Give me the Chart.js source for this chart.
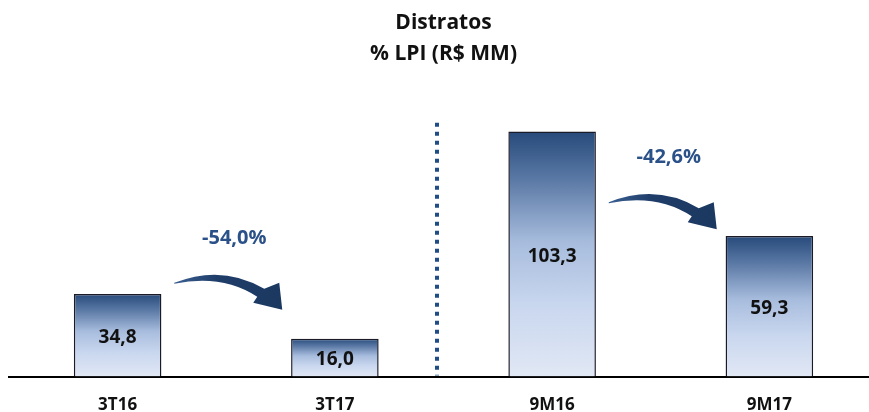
<!DOCTYPE html>
<html>
<head>
<meta charset="utf-8">
<script src="https://cdn.jsdelivr.net/npm/chart.js@4.4.1/dist/chart.umd.min.js"></script>
<style>
  html, body { margin: 0; padding: 0; background: #ffffff; overflow: hidden; }
  #wrap { width: 869px; height: 412px; position: relative; overflow: hidden; }
  canvas { display: block; }
</style>
</head>
<body>
<div id="wrap"><canvas id="c" width="878" height="412"></canvas></div>
<script>
const categories = ['3T16', '3T17', '9M16', '9M17'];
const values = [34.8, 16.0, 103.3, 59.3];
const valueLabels = ['34,8', '16,0', '103,3', '59,3'];
const changeLabels = ['-54,0%', '-42,6%'];
const titleLines = ['Distratos', '% LPI (R$ MM)'];

const FONT = '"Open Sans", "DejaVu Sans", sans-serif';

function barGradient(ctx) {
  const chart = ctx.chart;
  if (!chart.chartArea || !chart.scales.y) return '#a9bddf';
  const y = chart.scales.y;
  const top = y.getPixelForValue(ctx.raw);
  const bottom = y.getPixelForValue(0);
  const g = chart.ctx.createLinearGradient(0, top, 0, bottom);
  g.addColorStop(0, '#264a7b');
  g.addColorStop(0.2, '#5c7aa6');
  g.addColorStop(0.45, '#a7bcdd');
  g.addColorStop(0.7, '#c8d6ee');
  g.addColorStop(1, '#e1e8f5');
  return g;
}

const decorPlugin = {
  id: 'decor',
  afterDatasetsDraw(chart) {
    const ctx = chart.ctx;
    const meta = chart.getDatasetMeta(0);
    const xs = chart.scales.x;
    const ys = chart.scales.y;
    const area = chart.chartArea;

    // value labels inside bars
    ctx.save();
    ctx.font = 'bold 19px ' + FONT;
    ctx.fillStyle = '#111111';
    ctx.textAlign = 'center';
    ctx.textBaseline = 'middle';
    meta.data.forEach((bar, i) => {
      ctx.fillText(valueLabels[i], bar.x, (bar.y + bar.base) / 2 + 2);
    });
    ctx.restore();

    // dashed separator
    const p1 = xs.getPixelForValue(1), p2 = xs.getPixelForValue(2);
    const sx = Math.round(p1 + 0.468 * (p2 - p1));
    ctx.save();
    ctx.strokeStyle = '#1f4e86';
    ctx.lineWidth = 4;
    ctx.setLineDash([4, 5]);
    ctx.beginPath();
    ctx.moveTo(sx, ys.getPixelForValue(107));
    ctx.lineTo(sx, area.bottom - 1);
    ctx.stroke();
    ctx.restore();

    // change labels + curved arrows
    const anchors = [
      { from: 0, to: 1, yVal: 58.5 },
      { from: 2, to: 3, yVal: 92.5 }
    ];
    anchors.forEach((a, k) => {
      const cx = (meta.data[a.from].x + meta.data[a.to].x) / 2 + 8;
      const cy = ys.getPixelForValue(a.yVal);
      ctx.save();
      ctx.font = 'bold 20px ' + FONT;
      ctx.fillStyle = '#2b5189';
      ctx.textAlign = 'center';
      ctx.textBaseline = 'middle';
      ctx.fillText(changeLabels[k], cx, cy);

      const P = (dx, dy) => [cx + dx, cy + dy];
      const g = ctx.createLinearGradient(cx - 60, 0, cx + 47, 0);
      g.addColorStop(0, '#3a5f92');
      g.addColorStop(0.4, '#1f3d69');
      g.addColorStop(1, '#1b3860');
      ctx.fillStyle = g;
      ctx.beginPath();
      let t = P(-60, 45); ctx.moveTo(t[0], t[1]);
      let c1 = P(-12, 26), e1 = P(30, 51);
      ctx.quadraticCurveTo(c1[0], c1[1], e1[0], e1[1]);
      let A = P(45, 45); ctx.lineTo(A[0], A[1]);
      let C = P(48, 72); ctx.lineTo(C[0], C[1]);
      let B = P(19, 65); ctx.lineTo(B[0], B[1]);
      let b1 = P(23, 59); ctx.lineTo(b1[0], b1[1]);
      let c2 = P(-12, 36), t2 = P(-60, 46);
      ctx.quadraticCurveTo(c2[0], c2[1], t2[0], t2[1]);
      ctx.closePath();
      ctx.fill();
      ctx.restore();
    });
  }
};

new Chart(document.getElementById('c'), {
  type: 'bar',
  data: {
    labels: categories,
    datasets: [{
      data: values,
      backgroundColor: barGradient,
      borderColor: '#1b1b28',
      borderWidth: 1.5,
      borderSkipped: 'bottom',
      barPercentage: 0.403,
      categoryPercentage: 1.0
    }]
  },
  options: {
    responsive: false,
    animation: false,
    devicePixelRatio: 1,
    layout: { padding: { left: 9, right: 0, top: 0, bottom: -21 } },
    plugins: {
      legend: { display: false },
      tooltip: { enabled: false },
      title: {
        display: true,
        fullSize: false,
        text: titleLines,
        color: '#111111',
        font: { family: FONT, size: 21, weight: 'bold', lineHeight: 1.5 },
        padding: { top: 7, bottom: 22 }
      }
    },
    scales: {
      x: {
        grid: { display: false, drawTicks: false },
        border: { display: true, color: '#000000', width: 2 },
        ticks: {
          color: '#111111',
          padding: 18,
          font: { family: FONT, size: 17, weight: 'bold' }
        }
      },
      y: {
        display: false,
        min: 0,
        max: 120
      }
    }
  },
  plugins: [decorPlugin]
});
</script>
</body>
</html>
